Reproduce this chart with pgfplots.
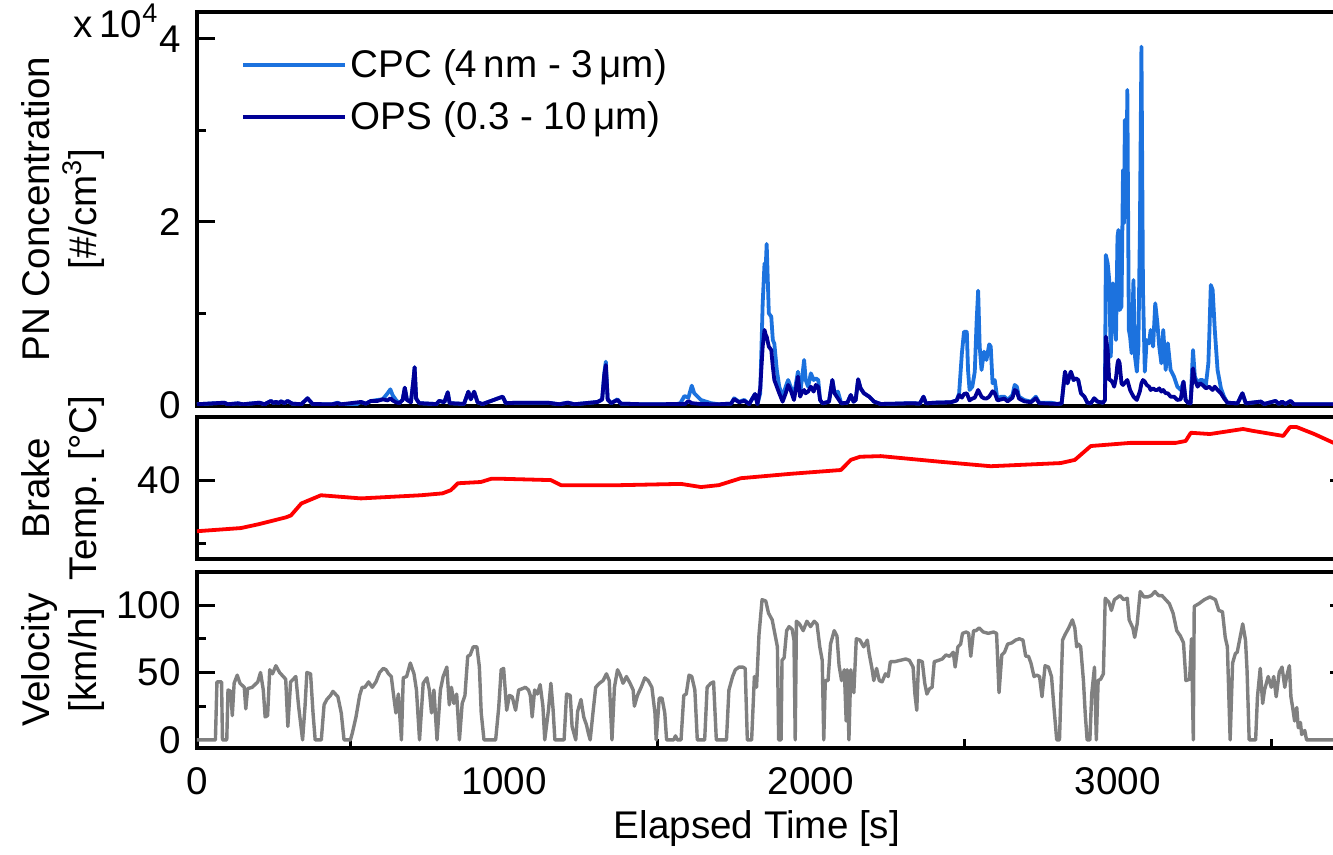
\documentclass[border=0pt]{standalone}
\usepackage{fontspec}
\setmainfont{Liberation Sans}
\usepackage{pgfplots}
\usepackage{pgfplotstable}
\pgfplotsset{compat=1.18}
\definecolor{cpc}{HTML}{1C72DE}
\definecolor{ops}{HTML}{000096}
\definecolor{vel}{HTML}{808080}
\definecolor{tmp}{HTML}{FF0000}
\newcommand{\fs}{\fontsize{19.3}{23.5}\selectfont}

\pgfplotstableread{
t c
0 80
89 250
100 80
133 180
150 80
203 250
220 80
241 440
250 200
257 360
265 200
274 400
285 200
295 440
310 150
340 80
360 730
377 100
440 80
458 250
470 80
520 80
534 330
550 150
567 440
589 550
605 620
621 1280
630 1710
637 1090
648 550
659 200
670 550
677 1890
684 550
697 300
706 3000
709 4120
714 700
724 200
780 100
789 450
806 300
817 1390
823 200
870 120
884 1450
892 620
903 1450
914 300
930 100
996 910
1006 200
1045 250
1077 250
1110 250
1143 250
1180 80
1208 250
1230 80
1305 330
1320 600
1327 3500
1332 4740
1338 600
1349 200
1370 620
1381 150
1450 80
1560 80
1575 200
1588 980
1601 800
1612 2110
1620 1280
1642 550
1674 200
1700 80
1740 150
1750 730
1766 350
1783 550
1799 100
1818 1200
1826 100
1835 1280
1843 11110
1849 15480
1853 15100
1856 17600
1863 10020
1871 9650
1876 7100
1881 6700
1889 3830
1897 2000
1908 910
1918 2000
1926 2730
1934 2000
1945 1100
1958 3640
1965 1280
1972 3100
1978 4920
1983 2730
1991 2000
2000 3460
2009 2730
2016 2910
2024 2730
2030 550
2038 180
2059 360
2070 2730
2077 1280
2088 1460
2099 180
2119 250
2130 1090
2139 360
2146 550
2154 2800
2162 1820
2173 1280
2190 910
2206 360
2228 110
2280 150
2330 200
2355 150
2367 910
2375 180
2402 250
2456 300
2475 500
2483 1280
2492 5650
2499 8010
2508 8010
2512 3830
2517 1640
2526 2000
2534 3640
2540 9100
2545 12490
2550 6380
2556 3830
2564 5830
2572 4920
2581 6630
2586 6380
2592 2370
2599 2730
2608 550
2619 910
2630 910
2641 550
2657 1090
2664 2190
2671 2000
2678 910
2695 550
2717 360
2733 910
2744 250
2782 250
2804 110
2817 180
2828 3640
2836 2370
2847 3640
2856 2730
2863 2910
2871 2730
2880 1280
2891 910
2901 250
2912 180
2923 730
2934 360
2952 250
2958 550
2961 16390
2967 15480
2972 13660
2977 5280
2984 13300
2988 11110
2994 7100
2999 18400
3002 19130
3006 10380
3012 10750
3017 25680
3020 19850
3023 31150
3028 22950
3031 34430
3036 8200
3040 7470
3045 5650
3051 13660
3056 5280
3062 3640
3067 6380
3072 19130
3077 39160
3082 12570
3088 3640
3094 7100
3102 6740
3107 8200
3115 6380
3122 11110
3129 8930
3135 6380
3142 4550
3148 8200
3156 3830
3163 6740
3172 3830
3183 3100
3194 2000
3205 1640
3214 2550
3221 550
3228 250
3237 180
3245 6010
3251 3100
3260 2370
3268 2730
3276 2730
3287 2190
3295 4550
3298 7470
3303 13110
3309 12570
3316 8200
3325 3830
3336 1820
3346 910
3357 250
3390 180
3406 1280
3417 180
3466 370
3477 110
3514 440
3525 110
3535 370
3546 110
3563 440
3574 80
3750 80
}\cpcdata

\pgfplotstableread{
t c
0 80
89 250
100 80
133 180
150 80
203 250
220 80
241 440
250 200
257 360
265 200
274 400
285 200
295 440
310 150
340 80
360 730
377 100
440 80
458 200
470 80
534 330
550 150
567 440
589 450
605 620
621 500
630 730
637 500
648 300
659 200
670 550
677 1890
684 550
697 300
706 3000
709 4120
714 700
724 200
780 100
789 450
806 300
817 1390
823 200
870 120
884 1450
892 620
903 1450
914 300
930 100
996 910
1006 200
1045 250
1077 250
1110 250
1143 250
1180 80
1208 250
1230 80
1305 330
1320 600
1327 3300
1332 4370
1338 600
1349 200
1370 550
1381 150
1450 80
1590 100
1601 430
1612 200
1642 100
1700 80
1740 150
1750 650
1766 300
1783 450
1799 100
1818 1200
1826 100
1835 1800
1843 6380
1849 8200
1853 7650
1856 7470
1863 6380
1871 6010
1876 4190
1881 2730
1889 2000
1897 1280
1908 360
1918 1280
1926 2190
1934 1640
1945 550
1958 3100
1965 910
1972 1460
1978 1640
1983 1280
1991 1460
2000 2000
2009 1460
2016 2190
2024 2000
2030 550
2038 180
2059 360
2070 2730
2077 1280
2088 730
2099 180
2119 250
2130 1090
2139 360
2146 550
2154 2800
2162 1820
2173 1280
2190 910
2206 360
2228 110
2280 150
2330 200
2355 150
2367 900
2375 180
2402 250
2456 300
2475 500
2483 1090
2492 800
2499 1200
2508 1280
2517 500
2526 700
2534 800
2545 1640
2556 900
2564 730
2572 700
2581 910
2592 1500
2599 1300
2608 500
2630 700
2641 400
2657 800
2664 1640
2671 1500
2678 700
2695 400
2717 300
2733 730
2744 200
2804 110
2817 180
2828 3640
2836 2370
2847 3640
2856 2730
2863 2910
2871 2730
2880 1280
2891 910
2901 250
2912 180
2923 730
2934 360
2952 250
2958 550
2961 7470
2967 6010
2972 2730
2977 2730
2984 2370
2988 2000
2994 2910
2999 4550
3002 4920
3006 4550
3012 2370
3017 2190
3031 2730
3040 1640
3051 910
3062 550
3072 1500
3077 2370
3082 2730
3088 2550
3094 2190
3102 2000
3107 1640
3115 1820
3122 1640
3129 1640
3135 1820
3142 1460
3148 1640
3156 1280
3163 1280
3172 910
3183 910
3194 550
3205 620
3214 2550
3221 550
3228 250
3237 180
3245 4010
3251 2730
3260 2000
3268 2370
3276 2190
3287 1820
3298 2000
3303 1820
3309 1640
3316 2000
3325 1640
3336 1280
3346 730
3357 250
3390 180
3406 1280
3417 180
3466 370
3477 110
3514 440
3525 110
3535 370
3546 110
3563 440
3574 80
3750 80
}\opsdata

\pgfplotstableread{
t T
0 31.9
143 32.4
200 33.0
290 34.1
306 34.4
340 36.3
404 37.6
534 37.1
730 37.6
800 37.9
827 38.4
850 39.5
925 39.7
958 40.2
1000 40.2
1153 40.0
1186 39.2
1381 39.2
1577 39.4
1642 38.9
1700 39.2
1772 40.3
1935 41.0
2098 41.6
2130 43.2
2160 43.7
2228 43.8
2423 42.9
2586 42.2
2814 42.7
2860 43.2
2912 45.4
3042 45.9
3189 45.9
3221 46.2
3238 47.5
3300 47.3
3408 48.1
3440 47.8
3539 47.0
3561 48.4
3583 48.4
3640 47.3
3703 45.9
3750 45.0
}\tempdata

\pgfplotstableread{
t v
0 0
60 0
65 43
80 43
83 0
97 0
101 37
110 36
115 18
121 42
131 48
140 42
154 39
159 23
165 38
180 39
198 43
207 50
216 37
222 17
230 18
237 52
246 49
257 55
269 50
281 47
289 45
296 10
305 43
322 47
331 25
344 0
352 25
358 50
370 49
378 20
385 0
405 0
414 26
423 30
435 33
443 36
459 32
470 20
479 0
500 0
506 5
518 17
530 33
538 39
547 39
559 43
571 39
583 43
595 50
607 53
616 52
624 49
633 47
640 34
648 20
656 34
666 0
672 46
683 47
695 57
707 49
715 37
725 0
737 42
749 46
757 37
764 20
772 37
782 0
793 37
802 47
814 54
822 26
829 39
837 27
846 34
855 0
864 27
873 33
882 62
890 63
900 69
912 69
920 54
926 20
935 0
973 0
983 24
991 52
999 53
1009 22
1018 33
1027 32
1038 22
1048 37
1060 38
1070 39
1080 37
1086 33
1092 17
1100 37
1109 34
1118 41
1127 25
1133 0
1145 22
1153 42
1160 23
1166 0
1196 0
1204 34
1216 33
1222 10
1234 0
1240 21
1251 30
1260 17
1269 11
1275 5
1281 0
1290 20
1299 39
1311 42
1323 44
1334 49
1343 44
1352 0
1360 39
1370 52
1379 48
1388 42
1393 44
1399 47
1411 42
1421 37
1425 25
1435 33
1447 39
1459 46
1470 44
1482 39
1492 20
1496 0
1506 31
1515 31
1524 20
1530 0
1553 0
1559 3
1565 0
1577 0
1586 33
1594 34
1603 48
1612 47
1622 37
1630 0
1654 0
1662 39
1674 42
1683 43
1692 0
1725 0
1733 37
1745 47
1754 52
1766 54
1778 54
1786 53
1793 0
1807 0
1816 47
1823 39
1831 78
1841 104
1853 103
1862 94
1874 89
1885 76
1891 69
1895 0
1903 0
1906 59
1913 61
1921 81
1929 84
1939 82
1945 74
1949 0
1953 88
1963 86
1975 81
1987 88
1999 84
2011 88
2020 86
2029 69
2037 59
2042 0
2047 44
2056 44
2064 71
2076 81
2085 77
2092 55
2100 44
2109 52
2115 14
2118 52
2124 0
2130 52
2140 35
2148 75
2160 74
2172 69
2184 74
2190 64
2199 53
2205 44
2214 53
2223 44
2232 43
2243 49
2252 47
2259 58
2273 58
2291 59
2309 60
2321 59
2333 54
2339 34
2345 22
2351 59
2363 58
2371 42
2378 34
2387 38
2395 39
2402 58
2416 59
2428 60
2440 63
2452 62
2464 65
2470 54
2479 69
2488 71
2494 79
2506 80
2514 79
2521 62
2530 81
2538 81
2548 83
2562 80
2578 79
2595 80
2605 79
2613 35
2622 63
2631 65
2641 71
2655 72
2667 74
2679 75
2691 74
2700 62
2709 62
2717 57
2727 47
2736 48
2745 47
2753 32
2763 55
2774 54
2784 47
2792 24
2801 0
2810 0
2820 74
2828 78
2840 83
2852 89
2860 83
2866 69
2872 71
2879 69
2888 44
2894 19
2900 0
2909 0
2915 34
2924 54
2930 0
2936 44
2944 45
2953 49
2959 105
2971 102
2979 96
2989 104
3007 107
3019 104
3031 105
3037 89
3049 83
3055 76
3063 86
3073 110
3085 106
3097 106
3109 107
3121 110
3133 107
3144 107
3156 104
3168 101
3180 94
3192 81
3204 77
3214 72
3222 44
3234 45
3240 75
3246 0
3249 99
3264 101
3282 104
3300 106
3318 104
3329 96
3341 95
3350 76
3357 69
3366 0
3374 57
3383 64
3389 65
3401 79
3407 86
3416 74
3421 52
3428 0
3449 0
3455 32
3464 53
3472 27
3478 37
3490 47
3500 39
3508 47
3516 32
3526 50
3535 54
3544 39
3550 47
3559 55
3564 32
3571 22
3576 14
3583 24
3588 9
3595 13
3599 4
3609 7
3615 0
3750 0
}\veldata

\pgfplotsset{
  panel/.style={
    scale only axis,
    width=575.5pt,
    xmin=0, xmax=3750,
    axis line style={line width=1.6pt, black},
    every tick/.style={black, line width=1.5pt},
    major tick length=9pt,
    minor tick length=4.5pt,
    tick align=inside,
    font=\fs,
    tick label style={font=\fs},
    label style={font=\fs},
    /pgf/number format/assume math mode=true,
    /pgf/number format/1000 sep={},
    ylabel style={align=center, at={(axis description cs:-0.1164,0.5)}, anchor=center},
    yticklabel style={xshift=-4.6pt},
    clip mode=individual,
  },
  noxt/.style={xtick=\empty, xticklabels={}},
}

\begin{document}
\begin{tikzpicture}
\useasboundingbox (-98.5pt,-53.5pt) rectangle (568pt,374pt);

% Top: PN concentration
\begin{axis}[panel, noxt,
  at={(0pt,171pt)}, anchor=south west,
  height=197pt,
  ymin=-110, ymax=42950,
  ytick={0,20000,40000},
  yticklabels={0,2,4},
  minor ytick={10000,30000},
  scaled y ticks=false,
  ytick pos=left,
  ylabel={PN Concentration\\{[\#/cm\textsuperscript{3}]}},
  legend cell align=left,
  legend style={at={(axis description cs:0.038,0.915)}, anchor=north west,
    draw=none, fill=none, font=\fs, row sep=6.5pt, inner sep=0pt},
  legend image code/.code={\draw[#1, line width=1.9pt] (0pt,0pt) -- (44pt,0pt); \path (0pt,0pt) -- (51pt,0pt);},
]
\addplot[cpc, line width=1.9pt, line join=round] table[x=t, y=c] {\cpcdata};
\addlegendentry{CPC (4\,nm - 3\,μm)}
\addplot[ops, line width=1.9pt, line join=round] table[x=t, y=c] {\opsdata};
\addlegendentry{OPS (0.3 - 10\,μm)}
\node[anchor=base west, inner sep=0pt, font=\fs] at (axis description cs:-0.1075,0.934) {x\,10\textsuperscript{4}};
\end{axis}

% Middle: brake temperature
\begin{axis}[panel, noxt,
  at={(0pt,94.5pt)}, anchor=south west,
  height=71pt,
  ymin=27.5, ymax=50,
  ytick={20,40,60},
  minor ytick={30,50},
  ylabel={Brake\\Temp. [°C]},
]
\addplot[tmp, line width=1.9pt, line join=round] table[x=t, y=T] {\tempdata};
\end{axis}

% Bottom: velocity
\begin{axis}[panel,
  at={(0pt,0pt)}, anchor=south west,
  height=88pt,
  ymin=-6, ymax=124.5,
  ytick={0,50,100},
  minor ytick={25,75},
  xtick={0,1000,2000,3000},
  minor xtick={500,1500,2500,3500},
  xtick pos=left,
  every major x tick/.append style={draw=none},
  xticklabel style={yshift=-6pt},
  xlabel={Elapsed Time [s]},
  xlabel style={at={(axis description cs:0.4865,0)}, anchor=center, yshift=-40.5pt},
  ylabel={Velocity\\{[km/h]}},
]
\addplot[vel, line width=1.7pt, line join=round] table[x=t, y=v] {\veldata};
\end{axis}
\end{tikzpicture}
\end{document}
